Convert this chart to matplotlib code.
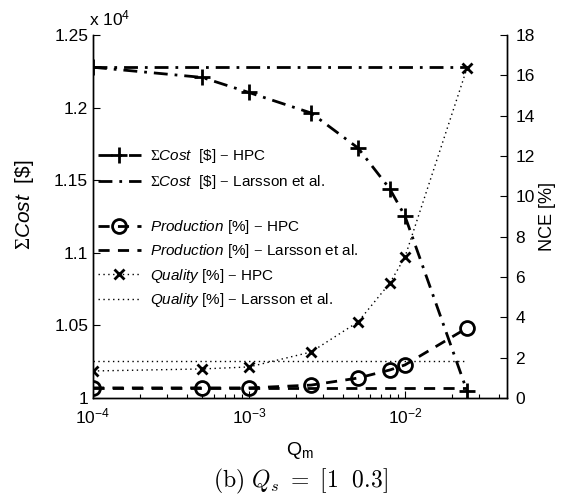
import numpy as np
import matplotlib
matplotlib.use('Agg')
import matplotlib.pyplot as plt
from matplotlib.ticker import FixedLocator, LogLocator, NullFormatter

# Шрифты: подписи в стиле MATLAB (Arial -> Liberation Sans)
plt.rcParams['font.family'] = ['Liberation Sans', 'DejaVu Sans']
plt.rcParams['mathtext.fontset'] = 'custom'
plt.rcParams['mathtext.rm'] = 'Liberation Serif'
plt.rcParams['mathtext.it'] = 'Liberation Sans:italic'
plt.rcParams['mathtext.sf'] = 'Liberation Sans'

# ========== Данные ==========
q_m = [1e-4, 5e-4, 1e-3, 2.5e-3, 5e-3, 8e-3, 1e-2, 2.5e-2]
cost_hpc = [12278, 12208, 12104, 11963, 11722, 11440, 11253, 10048]
cost_larsson = [12278, 12278, 12278, 12278, 12278, 12278, 12278, 12278]
prod_hpc = [0.5, 0.5, 0.5, 0.64, 0.99, 1.39, 1.64, 3.47]
prod_larsson = [0.5, 0.5, 0.5, 0.5, 0.5, 0.5, 0.5, 0.5]
qual_hpc = [1.34, 1.44, 1.54, 2.28, 3.77, 5.70, 6.99, 16.36]
qual_larsson = [1.83, 1.83, 1.83, 1.83, 1.83, 1.83, 1.83, 1.83]

left_ticks = [1, 1.05, 1.1, 1.15, 1.2, 1.25]
right_ticks = [0, 2, 4, 6, 8, 10, 12, 14, 16, 18]

# ========== Рисунок ==========
fig = plt.figure(figsize=(5.63, 4.98), dpi=100)
ax1 = fig.add_axes([93/563, 1 - 398/498, 414/563, 363/498])
ax2 = ax1.twinx()

scale = 1e4
h1, = ax1.plot(q_m, np.array(cost_hpc) / scale, color='black', lw=2,
               ls=(0, (5, 2.5, 1, 2.5)), marker='+', ms=11, mew=2)
h2, = ax1.plot(q_m, np.array(cost_larsson) / scale, color='black', lw=2,
               ls=(0, (5, 2.5, 1, 2.5)))

h3, = ax2.plot(q_m, prod_hpc, color='black', lw=2, ls=(0, (4, 3)),
               marker='o', ms=10, mew=2, mfc='none')
h4, = ax2.plot(q_m, prod_larsson, color='black', lw=2, ls=(0, (4, 3)))
h5, = ax2.plot(q_m, qual_hpc, color='black', lw=1, ls=(0, (1, 2.5)),
               marker='x', ms=7, mew=2)
h6, = ax2.plot(q_m, qual_larsson, color='black', lw=1, ls=(0, (1, 2.5)))

ax1.set_xscale('log')
ax1.set_xlim(1e-4, 0.0451)
ax1.set_ylim(1, 1.25)
ax2.set_ylim(0, 18)
ax1.yaxis.set_major_locator(FixedLocator(left_ticks))
ax1.set_yticklabels([f'{t:g}' for t in left_ticks])
ax2.yaxis.set_major_locator(FixedLocator(right_ticks))
ax1.xaxis.set_major_locator(LogLocator(base=10, numticks=10))
ax1.xaxis.set_minor_locator(LogLocator(base=10, subs=np.arange(2, 10), numticks=10))
ax1.xaxis.set_minor_formatter(NullFormatter())

for ax in (ax1, ax2):
    ax.spines['top'].set_visible(False)
    for s in ax.spines.values():
        s.set_linewidth(1)
    ax.tick_params(which='both', direction='in', labelsize=12.5, width=0.8)
    ax.tick_params(which='major', length=5)
    ax.tick_params(which='minor', length=3)
ax1.tick_params(axis='y', right=False)
ax1.tick_params(axis='x', pad=6)
ax2.tick_params(axis='y', left=False, pad=6)

# Множитель оси и подписи
fig.text(110/563, 1 - 18/498, r'x 10$^\mathregular{4}$', fontsize=12.5,
         ha='center', va='center')
fig.text(25/563, 1 - 205/498, r'$\mathrm{\Sigma}\mathit{Cost}$  [\$]', fontsize=15,
         rotation=90, ha='center', va='center')
fig.text(547/563, 1 - 216/498, 'NCE [%]', fontsize=13,
         rotation=90, ha='center', va='center')
fig.text(300/563, 1 - 450/498, r'Q$_\mathregular{m}$', fontsize=14,
         ha='center', va='center')
fig.text(300/563, 1 - 481/498, r'$\mathrm{(b)}\ Q_s\ =\ [1\ \ 0.3]$', fontsize=17,
         ha='center', va='center', math_fontfamily='cm')

# Легенды (две, как у plotyy)
leg1 = ax2.legend([h1, h2],
                  [r'$\mathrm{\Sigma}\mathit{Cost}$  [\$] $-$ HPC',
                   r'$\mathrm{\Sigma}\mathit{Cost}$  [\$] $-$ Larsson et al.'],
                  loc='upper left', bbox_to_anchor=(98/563, 1 - 147/498),
                  bbox_transform=fig.transFigure, frameon=False, fontsize=11,
                  handlelength=2.8, handletextpad=0.6, labelspacing=0.55,
                  borderaxespad=0, borderpad=0)
ax2.add_artist(leg1)
ax2.legend([h3, h4, h5, h6],
           [r'$\mathit{Production}$ [%] $-$ HPC',
            r'$\mathit{Production}$ [%] $-$ Larsson et al.',
            r'$\mathit{Quality}$ [%] $-$ HPC',
            r'$\mathit{Quality}$ [%] $-$ Larsson et al.'],
           loc='upper left', bbox_to_anchor=(98/563, 1 - 218/498),
           bbox_transform=fig.transFigure, frameon=False, fontsize=11,
           handlelength=2.8, handletextpad=0.6, labelspacing=0.42,
           borderaxespad=0, borderpad=0)

plt.savefig('out.png', dpi=100)
